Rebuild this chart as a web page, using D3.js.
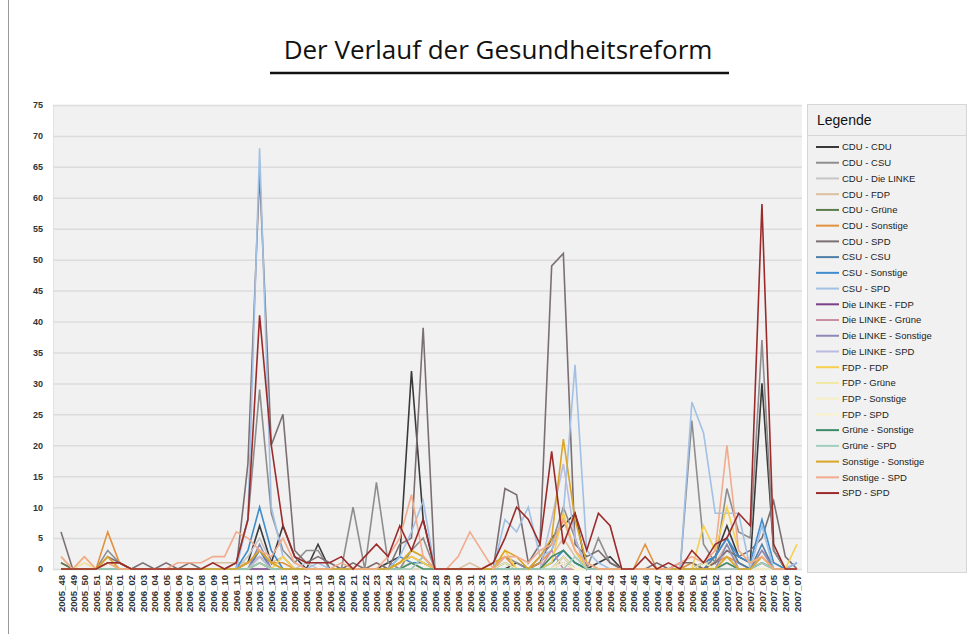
<!DOCTYPE html>
<html>
<head>
<meta charset="utf-8">
<script src="https://cdn.jsdelivr.net/npm/d3@7"></script>
<style>
  body { margin: 0; background: #fff; }
  text { font-family: "Liberation Sans", Arial, sans-serif; }
</style>
</head>
<body>
<div id="chart"></div>
<script>
// weeks on the x axis
var weeks = ["2005_48","2005_49","2005_50","2005_51","2005_52"];
for (var w = 1; w <= 52; w++) weeks.push("2006_" + (w < 10 ? "0" + w : w));
for (var w = 1; w <= 7; w++) weeks.push("2007_0" + w);

var yTicks = [0,5,10,15,20,25,30,35,40,45,50,55,60,65,70,75];

var seriesNames = ["CDU - CDU","CDU - CSU","CDU - Die LINKE","CDU - FDP","CDU - Grüne","CDU - Sonstige","CDU - SPD",
  "CSU - CSU","CSU - Sonstige","CSU - SPD","Die LINKE - FDP","Die LINKE - Grüne","Die LINKE - Sonstige","Die LINKE - SPD",
  "FDP - FDP","FDP - Grüne","FDP - Sonstige","FDP - SPD","Grüne - Sonstige","Grüne - SPD","Sonstige - Sonstige","Sonstige - SPD","SPD - SPD"];

var seriesColors = ["#3a3a3a","#8e8e8e","#c6c6c6","#dcc09e","#5d7c4d","#e2913e","#7b6f72",
  "#4f7ea6","#3f8ccc","#a2c0e4","#7a3f86","#c98ea0","#8d88b6","#b9bbe0",
  "#f6cf4c","#f1e8a4","#f6eec4","#f9f2cc","#3d8a68","#a3cdbd","#dba526","#f2ab8c","#9b2b2b"];

// one value per week (64)
var cduCdu  = [0,0,0,0,1,1,0,0, 0,0,0,0,0,0,0,0, 1,7,1,7,2,0,4,0, 0,0,0,0,1,2,32,8, 0,0,0,0,0,0,0,1, 0,1,5,7,9,0,1,2, 0,0,0,0,0,0,0,1, 2,7,2,1,30,3,0,0];
var cduCsu  = [1,0,0,0,3,1,0,0, 0,0,0,0,0,0,0,1, 8,29,9,3,1,3,3,0, 0,10,0,14,1,0,3,5, 0,0,0,0,0,0,2,1, 0,2,4,10,5,0,5,1, 0,0,0,0,0,0,24,4, 1,13,6,5,37,3,0,0];
var cduLinke= [0,0,0,0,1,0,0,0, 0,0,0,0,0,0,0,0, 2,5,1,0,0,1,0,0, 0,0,0,0,0,1,2,1, 0,0,0,0,0,0,1,0, 0,0,1,3,1,0,0,0, 0,0,0,0,0,0,1,0, 0,3,1,0,2,0,0,0];
var cduFdp  = [2,0,1,0,2,0,0,0, 0,0,0,0,0,1,1,1, 1,2,1,2,0,0,0,0, 0,0,0,1,0,1,3,2, 0,0,0,1,0,0,1,0, 0,0,2,5,2,0,0,0, 0,0,0,0,0,0,0,1, 1,4,1,0,3,1,0,0];
var cduGruene=[1,0,0,0,0,0,0,0, 0,0,0,0,0,0,0,0, 0,1,0,0,0,0,0,0, 0,0,0,0,0,0,1,0, 0,0,0,0,0,0,0,0, 0,0,0,1,0,0,0,0, 0,0,0,0,0,0,0,0, 0,1,0,0,0,0,0,0];
var cduSonst= [0,0,0,0,6,1,0,0, 0,0,0,0,0,0,0,0, 1,3,1,1,0,0,0,0, 0,0,0,0,0,1,2,1, 0,0,0,0,0,1,2,0, 0,1,3,8,3,0,0,0, 0,0,4,0,0,0,1,0, 1,2,1,0,1,0,0,0];
var cduSpd  = [6,0,0,0,2,1,0,1, 0,1,0,1,0,0,0,0, 17,64,20,25,3,1,2,1, 0,1,0,1,0,4,5,39, 0,0,0,0,0,0,13,12, 1,4,49,51,4,2,3,1, 0,0,0,1,0,1,1,0, 1,3,2,3,5,11,2,0];
var csuCsu  = [0,0,0,0,0,0,0,0, 0,0,0,0,0,0,0,0, 0,3,0,0,0,0,0,0, 0,0,0,0,0,0,1,0, 0,0,0,0,0,0,0,0, 0,0,0,2,0,0,0,0, 0,0,0,0,0,0,0,0, 2,5,1,0,4,0,0,0];
var csuSonst= [0,0,0,0,0,0,0,0, 0,0,0,0,0,0,0,0, 3,10,3,0,0,0,0,0, 0,0,0,0,0,2,1,1, 0,0,0,0,0,0,1,0, 0,0,1,3,1,0,0,0, 0,0,0,0,0,0,0,1, 2,5,2,1,8,1,0,1];
var csuSpd  = [0,0,0,0,0,0,0,0, 0,0,0,0,0,0,0,0, 8,68,10,2,0,0,1,0, 0,0,0,0,0,2,6,11, 0,0,0,0,0,0,8,6, 10,2,3,9,33,3,1,0, 0,0,0,0,0,0,27,22, 9,9,9,0,7,0,0,1];
var linkeFdp= [0,0,0,0,0,0,0,0, 0,0,0,0,0,0,0,0, 0,0,0,0,0,0,0,0, 0,0,0,0,0,0,1,0, 0,0,0,0,0,0,0,0, 0,0,0,1,0,0,0,0, 0,0,0,0,0,0,0,0, 0,1,0,0,0,0,0,0];
var linkeGruene=[0,0,0,0,0,0,0,0, 0,0,0,0,0,0,0,0, 0,2,0,0,0,0,0,0, 0,0,0,0,0,0,0,2, 0,0,0,0,0,0,0,0, 0,0,3,0,0,0,0,0, 0,0,0,0,0,0,0,0, 0,0,0,0,1,0,0,0];
var linkeSonst=[0,0,0,0,0,0,0,0, 0,0,0,0,0,0,0,0, 0,4,0,0,0,0,0,0, 0,0,0,0,0,0,0,0, 0,0,0,0,0,0,0,0, 0,0,0,2,0,0,0,0, 0,0,0,0,0,0,0,0, 0,4,0,0,3,0,0,0];
var linkeSpd= [0,0,0,0,0,0,0,0, 0,0,0,0,0,0,0,0, 0,2,0,0,0,0,0,0, 0,0,0,0,0,0,1,0, 0,0,0,0,0,0,0,0, 0,0,8,17,5,0,0,0, 0,0,0,0,0,0,0,0, 0,2,0,0,1,0,0,0];
var fdpFdp  = [0,0,2,0,1,0,0,0, 0,0,0,0,0,0,0,0, 0,1,0,2,0,0,0,0, 0,0,0,0,0,1,2,1, 0,0,0,0,0,0,3,0, 0,0,1,9,3,0,0,0, 0,0,0,0,0,0,0,7, 3,10,3,1,2,0,0,4];
var fdpGruene=[0,0,1,0,0,0,0,0, 0,0,0,0,0,0,0,0, 0,1,0,0,0,0,0,0, 0,0,0,0,0,0,1,0, 0,0,0,0,0,0,1,0, 0,0,0,2,0,0,0,0, 0,0,0,0,0,0,0,1, 0,2,0,0,1,0,0,0];
var fdpSonst= [0,0,0,0,0,0,0,0, 0,0,0,0,0,0,0,0, 0,1,0,0,0,0,0,0, 0,0,0,0,0,0,0,0, 0,0,0,0,0,0,0,0, 0,0,0,1,0,0,0,0, 0,0,0,0,0,0,0,0, 0,1,0,0,0,0,0,0];
var fdpSpd  = [0,0,0,0,0,0,0,0, 0,0,0,0,0,0,0,0, 0,1,0,0,0,0,0,0, 0,0,0,0,0,0,1,0, 0,0,0,0,0,0,0,0, 0,0,0,1,0,0,0,0, 0,0,0,0,0,0,0,0, 0,1,0,0,0,0,0,0];
var gruSonst= [0,0,0,0,0,0,0,0, 0,0,0,0,0,0,0,0, 0,1,0,0,0,0,0,0, 0,0,0,0,0,0,1,0, 0,0,0,0,0,0,0,0, 0,0,2,3,1,0,0,0, 0,0,0,0,0,0,0,0, 0,1,0,0,1,0,0,0];
var gruSpd  = [0,0,0,0,0,0,0,0, 0,0,0,0,0,0,0,0, 0,1,0,0,0,0,0,0, 0,0,0,0,0,0,0,2, 0,0,0,0,0,0,0,0, 0,0,0,0,2,0,0,0, 0,0,0,0,0,0,0,0, 0,0,0,0,1,0,0,0];
var sonSonst= [0,0,0,0,2,0,0,0, 0,0,0,0,0,0,0,0, 1,3,1,0,0,0,0,0, 0,0,0,0,0,1,3,2, 0,0,0,0,0,0,3,2, 0,2,5,21,8,1,0,0, 0,0,0,0,0,0,0,0, 0,2,0,0,2,0,0,0];
var sonSpd  = [2,0,2,0,1,0,0,0, 0,0,1,1,1,2,2,6, 5,3,2,5,1,0,0,0, 1,0,0,0,2,5,12,2, 0,0,2,6,3,0,2,2, 1,3,4,8,3,1,0,0, 0,0,0,0,0,1,2,1, 3,20,3,1,2,0,0,0];
var spdSpd  = [0,0,0,0,1,1,0,0, 0,0,0,0,0,1,0,1, 8,41,20,7,2,1,1,1, 2,0,2,4,2,7,3,8, 0,0,0,0,0,1,5,10, 8,4,19,4,9,3,9,7, 0,0,2,0,1,0,3,1, 4,5,9,7,59,4,0,0];

var seriesValues = [cduCdu,cduCsu,cduLinke,cduFdp,cduGruene,cduSonst,cduSpd,csuCsu,csuSonst,csuSpd,
  linkeFdp,linkeGruene,linkeSonst,linkeSpd,fdpFdp,fdpGruene,fdpSonst,fdpSpd,gruSonst,gruSpd,sonSonst,sonSpd,spdSpd];

var series = seriesNames.map(function(name, i) {
  return {name: name, color: seriesColors[i], values: seriesValues[i]};
});

var width = 974, height = 634;
var plot = {left: 53, right: 802, top: 105, bottom: 569};

var svg = d3.select("#chart").append("svg")
    .attr("width", width)
    .attr("height", height);

// frame line at the left
svg.append("line")
    .attr("x1", 8.5).attr("x2", 8.5)
    .attr("y1", 0).attr("y2", height)
    .attr("stroke", "#999").attr("stroke-width", 1);

// title
svg.append("text")
    .attr("x", 498).attr("y", 59)
    .attr("text-anchor", "middle")
    .style("font-family", "'Open Sans', 'Liberation Sans', sans-serif")
    .style("font-size", "26px")
    .style("fill", "#111")
    .text("Der Verlauf der Gesundheitsreform");
svg.append("line")
    .attr("x1", 270).attr("x2", 729)
    .attr("y1", 73).attr("y2", 73)
    .attr("stroke", "#111").attr("stroke-width", 2.5);

var x = d3.scalePoint()
    .domain(weeks)
    .range([61, 797]);

var y = d3.scaleLinear()
    .domain([0, 75])
    .range([plot.bottom, plot.top]);

// plot background
svg.append("rect")
    .attr("x", plot.left).attr("y", plot.top)
    .attr("width", plot.right - plot.left).attr("height", plot.bottom - plot.top)
    .attr("fill", "#f1f1f1");

svg.append("line")
    .attr("x1", plot.left + 0.5).attr("x2", plot.left + 0.5)
    .attr("y1", plot.top).attr("y2", plot.bottom)
    .attr("stroke", "#e2e2e2");

// grid + y labels
var yAxis = svg.append("g")
    .attr("transform", "translate(" + plot.left + ",0)")
    .call(d3.axisLeft(y).tickValues(yTicks).tickSize(-(plot.right - plot.left)).tickPadding(10));
yAxis.select(".domain").remove();
yAxis.selectAll(".tick line").attr("stroke", "#dcdcdc").attr("stroke-width", 1.5);
yAxis.selectAll(".tick text")
    .style("font-family", "'Liberation Sans', Arial, sans-serif")
    .style("font-size", "9px")
    .style("font-weight", "bold")
    .style("fill", "#333");

// x labels
var xAxis = svg.append("g")
    .attr("transform", "translate(0," + plot.bottom + ")")
    .call(d3.axisBottom(x).tickSize(0).tickPadding(0));
xAxis.select(".domain").remove();
xAxis.selectAll(".tick text")
    .attr("transform", "rotate(-90)")
    .attr("x", -6).attr("y", 0).attr("dy", "0.35em")
    .attr("text-anchor", "end")
    .style("font-family", "'Liberation Sans', Arial, sans-serif")
    .style("font-size", "9.5px")
    .style("font-weight", "bold")
    .style("fill", "#333");

// lines
var line = d3.line()
    .x(function(d, i) { return x(weeks[i]); })
    .y(function(d) { return y(d); });

svg.append("g")
    .selectAll("path")
    .data(series)
    .enter().append("path")
    .attr("d", function(d) { return line(d.values); })
    .attr("fill", "none")
    .attr("stroke", function(d) { return d.color; })
    .attr("stroke-width", 1.6)
    .attr("stroke-linejoin", "miter");

// legend
var lg = svg.append("g");
lg.append("rect")
    .attr("x", 807.5).attr("y", 104.5)
    .attr("width", 159).attr("height", 468)
    .attr("fill", "#f1f1f1").attr("stroke", "#d6d6d6");
lg.append("line")
    .attr("x1", 808).attr("x2", 966)
    .attr("y1", 135.5).attr("y2", 135.5)
    .attr("stroke", "#d6d6d6");
lg.append("text")
    .attr("x", 817).attr("y", 125)
    .style("font-size", "14px")
    .style("fill", "#111")
    .text("Legende");

var item = lg.selectAll("g.item")
    .data(series)
    .enter().append("g")
    .attr("class", "item")
    .attr("transform", function(d, i) { return "translate(0," + (147 + i * 15.73) + ")"; });
item.append("line")
    .attr("x1", 816).attr("x2", 839)
    .attr("stroke", function(d) { return d.color; })
    .attr("stroke-width", 2);
item.append("text")
    .attr("x", 842).attr("dy", "0.35em")
    .style("font-size", "9.5px")
    .style("fill", "#222")
    .text(function(d) { return d.name; });
</script>
</body>
</html>
